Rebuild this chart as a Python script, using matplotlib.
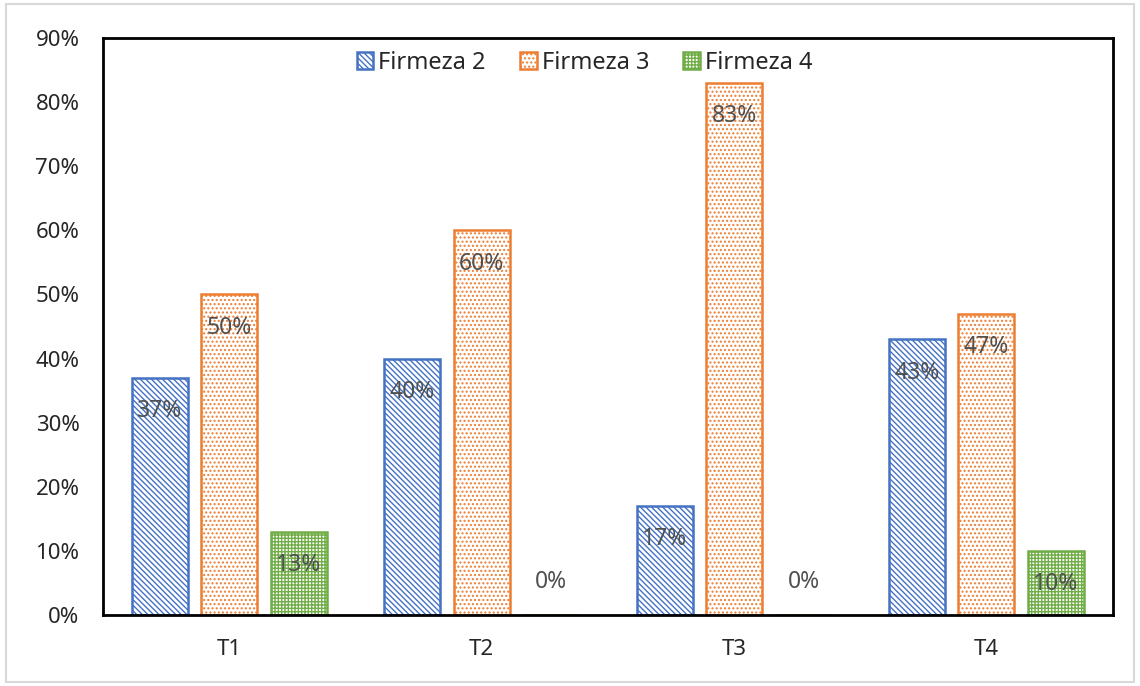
import matplotlib
matplotlib.use("Agg")
import matplotlib.pyplot as plt
import numpy as np
from matplotlib.patches import Rectangle
from matplotlib.ticker import PercentFormatter, MultipleLocator

categories = ["T1", "T2", "T3", "T4"]
series_names = ["Firmeza 2", "Firmeza 3", "Firmeza 4"]
firmeza2 = [37, 40, 17, 43]
firmeza3 = [50, 60, 83, 47]
firmeza4 = [13, 0, 0, 10]

colors = ["#4472C4", "#ED7D31", "#70AD47"]
hatches = ["\\\\\\\\\\\\", "....", "+++++"]

plt.rcParams["font.family"] = ["Noto Sans", "DejaVu Sans"]
plt.rcParams["hatch.linewidth"] = 1.0

fig = plt.figure(figsize=(11.4, 6.86), dpi=100)
ax = fig.add_axes([0.0904, 0.1035, 0.8856, 0.8411])

x = np.arange(len(categories))
width = 0.222
offsets = [-0.275, 0.0, 0.275]
values = [firmeza2, firmeza3, firmeza4]

for vals, name, col, h, off in zip(values, series_names, colors, hatches, offsets):
    bars = ax.bar(x + off, vals, width, label=name, facecolor="white",
                  edgecolor=col, hatch=h, linewidth=1.8)
    for b, v in zip(bars, vals):
        dy = -24 if v > 0 else 24
        ax.annotate(f"{v}%", (b.get_x() + b.get_width() / 2, v),
                    xytext=(0, dy), textcoords="offset points",
                    ha="center", va="center", fontsize=16.5, color="#505050")

ax.set_xlim(-0.5, 3.5)
ax.set_ylim(0, 90)
ax.yaxis.set_major_locator(MultipleLocator(10))
ax.yaxis.set_major_formatter(PercentFormatter(decimals=0))
ax.set_xticks(x)
ax.set_xticklabels(categories)
ax.tick_params(axis="both", length=0, labelsize=16, colors="#262626")
ax.tick_params(axis="x", pad=17)
ax.tick_params(axis="y", pad=17)
for s in ax.spines.values():
    s.set_color("black")
    s.set_linewidth(2)

leg = ax.legend(loc="upper center", ncol=3, frameon=False, fontsize=17,
                bbox_to_anchor=(0.477, 1.0), handlelength=0.7, handleheight=0.7,
                columnspacing=1.45, handletextpad=0.22, borderaxespad=0.15)
for t in leg.get_texts():
    t.set_color("#262626")

fig.patches.append(Rectangle((0.005, 0.006), 0.99, 0.988, transform=fig.transFigure,
                             fill=False, edgecolor="#D9D9D9", linewidth=1.5))

fig.savefig("out.png", dpi=100)
